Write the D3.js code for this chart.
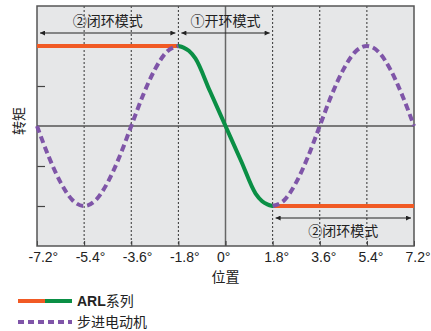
<!DOCTYPE html>
<html>
<head>
<meta charset="utf-8">
<script src="https://cdn.jsdelivr.net/npm/d3@7"></script>
<style>
  body { margin: 0; background: #fff; }
  text { font-family: "Liberation Sans", "Noto Sans CJK SC", sans-serif; }
  .cjk { font-family: "Noto Sans CJK SC", sans-serif; }
</style>
</head>
<body>
<div id="chart"></div>
<script>
// tick values (degrees / torque units)
var xTicks = [-7.2, -5.4, -3.6, -1.8, 0, 1.8, 3.6, 5.4, 7.2];
var xTickLabels = ["-7.2°", "-5.4°", "-3.6°", "-1.8°", "0°", "1.8°", "3.6°", "5.4°", "7.2°"];
var yTicks = [-2, -1, 1, 2];

// ARL series: closed loop flat parts + open loop ramp
var arlLeftX  = [-7.2, -1.8];
var arlLeftY  = [2, 2];
var arlMidX   = [-1.8, -1.6, -1.4, -1.15, -0.6, 0, 0.6, 1.15, 1.4, 1.6, 1.8];
var arlMidY   = [2, 1.96, 1.88, 1.69, 0.88, 0, -0.88, -1.69, -1.88, -1.96, -2];
var arlRightX = [1.8, 7.2];
var arlRightY = [-2, -2];

// stepper motor (two visible pieces)
var stepLeftX  = [-7.2, -6.75, -6.3, -5.85, -5.4, -4.95, -4.5, -4.05, -3.6, -3.15, -2.7, -2.25, -1.8];
var stepLeftY  = [0, -0.77, -1.41, -1.85, -2, -1.85, -1.41, -0.77, 0, 0.77, 1.41, 1.85, 2];
var stepRightX = [1.8, 2.25, 2.7, 3.15, 3.6, 4.05, 4.5, 4.95, 5.4, 5.85, 6.3, 6.75, 7.2];
var stepRightY = [-2, -1.85, -1.41, -0.77, 0, 0.77, 1.41, 1.85, 2, 1.85, 1.41, 0.77, 0];

// mode annotations
var modeFrom  = [-7.2, -1.8, 1.8];
var modeTo    = [-1.8, 1.8, 7.2];
var modeLabel = ["②闭环模式", "①开环模式", "②闭环模式"];

var orange = "#f15a24", green = "#0a8f45", purple = "#7f55a8";

var width = 431, height = 331;
var margin = { top: 6, left: 37, right: 17, bottom: 85 };

var svg = d3.select("#chart").append("svg")
  .attr("width", width)
  .attr("height", height);

var x = d3.scaleLinear().domain([-7.2, 7.2]).range([margin.left, width - margin.right]);
var y = d3.scaleLinear().domain([-3, 3]).range([height - margin.bottom, margin.top]);

var zip = function(xs, ys) { return xs.map(function(v, i) { return [v, ys[i]]; }); };

// plot background
svg.append("rect")
  .attr("x", x(-7.2)).attr("y", y(3))
  .attr("width", x(7.2) - x(-7.2)).attr("height", y(-3) - y(3))
  .attr("fill", "#e6e7e8");

// dotted grid lines
svg.selectAll(".vgrid")
  .data(xTicks.filter(function(d) { return d != 0 && Math.abs(d) != 7.2; }))
  .enter().append("line")
  .attr("x1", function(d) { return x(d); }).attr("x2", function(d) { return x(d); })
  .attr("y1", y(3)).attr("y2", y(-3))
  .attr("stroke", "#333").attr("stroke-width", 1)
  .attr("stroke-dasharray", "2,2");

// zero lines
svg.append("line")
  .attr("x1", x(0)).attr("x2", x(0)).attr("y1", y(3)).attr("y2", y(-3))
  .attr("stroke", "#666").attr("stroke-width", 1.5);
svg.append("line")
  .attr("x1", x(-7.2)).attr("x2", x(7.2)).attr("y1", y(0)).attr("y2", y(0))
  .attr("stroke", "#555").attr("stroke-width", 1.5);

// y axis inner ticks
svg.append("g")
  .attr("transform", "translate(" + x(-7.2) + ",0)")
  .call(d3.axisRight(y).tickValues(yTicks).tickSize(8).tickFormat(""))
  .call(function(g) { g.select(".domain").remove(); g.selectAll("line").attr("stroke", "#444").attr("stroke-width", 1.2); });

// x axis bottom ticks
var xAxis = svg.append("g")
  .attr("transform", "translate(0," + y(-3) + ")")
  .call(d3.axisTop(x).tickValues(xTicks).tickSize(5).tickFormat(""));
xAxis.select(".domain").remove();
xAxis.selectAll("line").attr("stroke", "#333");

// tick labels sit a little right of their tick, like the original
svg.selectAll(".xlab")
  .data(xTicks)
  .enter().append("text")
  .attr("x", function(d) { return x(d) - 8.5; })
  .attr("y", y(-3) + 16)
  .attr("text-anchor", "start")
  .attr("fill", "#222")
  .style("font-size", "14px")
  .text(function(d, i) { return xTickLabels[i]; });

// frame
svg.append("rect")
  .attr("x", x(-7.2)).attr("y", y(3))
  .attr("width", x(7.2) - x(-7.2)).attr("height", y(-3) - y(3))
  .attr("fill", "none").attr("stroke", "#555").attr("stroke-width", 1.5);

// axis titles
svg.append("text").attr("class", "cjk")
  .attr("x", x(0)).attr("y", 282)
  .attr("text-anchor", "middle").attr("fill", "#222")
  .style("font-size", "14px").text("位置");
svg.append("text").attr("class", "cjk")
  .attr("transform", "translate(24,121) rotate(-90)")
  .attr("text-anchor", "middle").attr("fill", "#222")
  .style("font-size", "14px").text("转矩");

// arrow marker
var defs = svg.append("defs");
defs.append("marker")
  .attr("id", "arr").attr("viewBox", "0 0 10 10")
  .attr("refX", 10).attr("refY", 5)
  .attr("markerWidth", 7).attr("markerHeight", 5)
  .attr("markerUnits", "userSpaceOnUse")
  .attr("orient", "auto-start-reverse")
  .append("path").attr("d", "M0,0L10,5L0,10z").attr("fill", "#222");

// mode annotations
var modeArrowY = [33, 33, 218];
var modeTextY  = [26, 26, 236];
modeLabel.forEach(function(lab, i) {
  svg.append("line")
    .attr("x1", x(modeFrom[i]) + 3).attr("x2", x(modeTo[i]) - 3)
    .attr("y1", modeArrowY[i]).attr("y2", modeArrowY[i])
    .attr("stroke", "#222").attr("stroke-width", 1)
    .attr("marker-start", "url(#arr)").attr("marker-end", "url(#arr)");
  svg.append("text").attr("class", "cjk")
    .attr("x", x((modeFrom[i] + modeTo[i]) / 2))
    .attr("y", modeTextY[i])
    .attr("text-anchor", "middle").attr("fill", "#222")
    .style("font-size", "14px").text(lab);
});

// lines
var line = d3.line()
  .x(function(d) { return x(d[0]); })
  .y(function(d) { return y(d[1]); })
  .curve(d3.curveMonotoneX);

svg.append("path").datum(zip(arlLeftX, arlLeftY))
  .attr("d", line).attr("fill", "none").attr("stroke", orange).attr("stroke-width", 4);
svg.append("path").datum(zip(arlRightX, arlRightY))
  .attr("d", line).attr("fill", "none").attr("stroke", orange).attr("stroke-width", 4);
svg.append("path").datum(zip(arlMidX, arlMidY))
  .attr("d", line).attr("fill", "none").attr("stroke", green).attr("stroke-width", 4)
  .attr("stroke-linecap", "round");

[zip(stepLeftX, stepLeftY), zip(stepRightX, stepRightY)].forEach(function(d) {
  svg.append("path").datum(d)
    .attr("d", line).attr("fill", "none").attr("stroke", purple)
    .attr("stroke-width", 4).attr("stroke-dasharray", "7,4");
});

// Handmade legend
var lg1 = 301, lg2 = 322;
svg.append("line").attr("x1", 18).attr("x2", 45).attr("y1", lg1).attr("y2", lg1)
  .attr("stroke", orange).attr("stroke-width", 4);
svg.append("line").attr("x1", 45).attr("x2", 72).attr("y1", lg1).attr("y2", lg1)
  .attr("stroke", green).attr("stroke-width", 4);
svg.append("line").attr("x1", 18).attr("x2", 72).attr("y1", lg2).attr("y2", lg2)
  .attr("stroke", purple).attr("stroke-width", 4).attr("stroke-dasharray", "6,4");
var t1 = svg.append("text").attr("x", 77).attr("y", lg1 + 5).attr("fill", "#222").style("font-size", "14px");
t1.append("tspan").style("font-weight", "bold").text("ARL");
t1.append("tspan").attr("class", "cjk").text("系列");
svg.append("text").attr("class", "cjk").attr("x", 77).attr("y", lg2 + 5)
  .attr("fill", "#222").style("font-size", "14px").text("步进电动机");
</script>
</body>
</html>
